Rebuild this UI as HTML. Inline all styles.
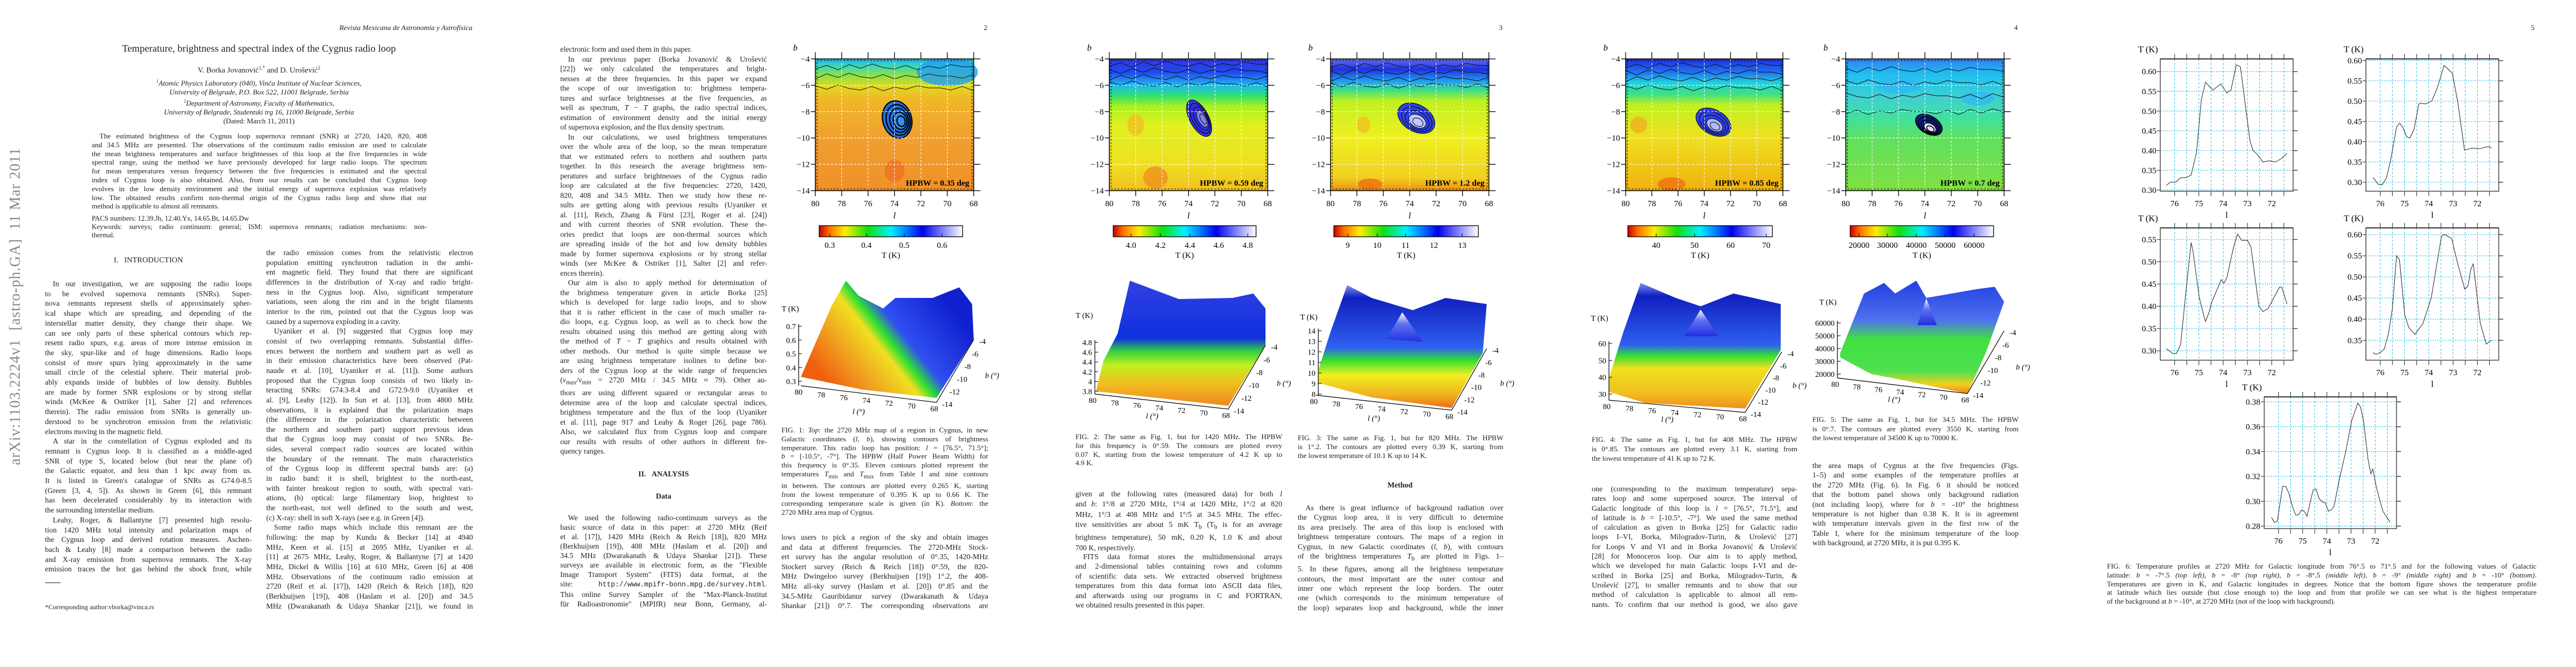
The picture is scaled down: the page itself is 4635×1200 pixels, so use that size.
<!DOCTYPE html>
<html><head><meta charset="utf-8"><title>Cygnus radio loop paper</title>
<style>
html,body{margin:0;padding:0;background:#fff;}
body{width:4635px;height:1200px;position:relative;overflow:hidden;font-family:"Liberation Serif",serif;color:#222;}
.t{position:absolute;font-size:13.5px;}
.t div{white-space:nowrap;overflow:hidden;text-align:justify;text-align-last:justify;}
.t div.e{text-align-last:left;}
.t div.i{text-indent:14px;}
.c{position:absolute;text-align:center;white-space:nowrap;}
.pn{position:absolute;font-size:13px;top:42px;}
#figs{position:absolute;left:0;top:0;}
</style></head>
<body>

<!-- PAGE 1 -->
<div style="position:absolute;left:27px;top:551px;transform:translate(-50%,-50%) rotate(-90deg);font-size:27px;color:#888;white-space:nowrap;letter-spacing:1px;">arXiv:1103.2224v1&nbsp;&nbsp;[astro-ph.GA]&nbsp;&nbsp;11 Mar 2011</div>
<div style="position:absolute;left:450px;width:400px;top:42px;text-align:right;font-style:italic;font-size:13px;">Revista Mexicana de Astronomía y Astrofísica</div>
<div class="c" style="left:166px;width:600px;top:77px;font-size:18px;">Temperature, brightness and spectral index of the Cygnus radio loop</div>
<div class="c" style="left:166px;width:600px;top:117px;font-size:14px;">V. Borka Jovanović<sup style="font-size:9px">1,*</sup> and D. Urošević<sup style="font-size:9px">2</sup></div>
<div class="c" style="left:166px;width:600px;top:139px;font-size:13px;line-height:16px;">
<div><i><sup style="font-size:8px">1</sup>Atomic Physics Laboratory (040), Vinča Institute of Nuclear Sciences,</i></div>
<div><i>University of Belgrade, P.O. Box 522, 11001 Belgrade, Serbia</i></div>
<div><i><sup style="font-size:8px">2</sup>Department of Astronomy, Faculty of Mathematics,</i></div>
<div><i>University of Belgrade, Studentski trg 16, 11000 Belgrade, Serbia</i></div>
<div>(Dated: March 11, 2011)</div>
</div>
<div class="t" style="left:165px;width:603px;top:237px;font-size:13px;line-height:15.8px;">
<div class="i">The estimated brightness of the Cygnus loop supernova remnant (SNR) at 2720, 1420, 820, 408</div>
<div>and 34.5 MHz are presented. The observations of the continuum radio emission are used to calculate</div>
<div>the mean brightness temperatures and surface brightnesses of this loop at the five frequencies in wide</div>
<div>spectral range, using the method we have previously developed for large radio loops. The spectrum</div>
<div>for mean temperatures versus frequency between the five frequencies is estimated and the spectral</div>
<div>index of Cygnus loop is also obtained. Also, from our results can be concluded that Cygnus loop</div>
<div>evolves in the low density environment and the initial energy of supernova explosion was relatively</div>
<div>low. The obtained results confirm non-thermal origin of the Cygnus radio loop and show that our</div>
<div class="e">method is applicable to almost all remnants.</div>
</div>
<div class="t" style="left:165px;width:603px;top:386px;font-size:12.5px;line-height:15px;">
<div class="e">PACS numbers: 12.39.Jh, 12.40.Yx, 14.65.Bt, 14.65.Dw</div>
<div>Keywords: surveys; radio continuum: general; ISM: supernova remnants; radiation mechanisms: non-</div>
<div class="e">thermal.</div>
</div>
<div class="c" style="left:81px;width:372px;top:461px;font-size:14px;">I.&nbsp;&nbsp;&nbsp;INTRODUCTION</div>
<div class="t" style="left:81px;width:372px;top:502px;line-height:17.7px;">
<div class="i">In our investigation, we are supposing the radio loops</div>
<div>to be evolved supernova remnants (SNRs). Super-</div>
<div>nova remnants represent shells of approximately spher-</div>
<div>ical shape which are spreading, and depending of the</div>
<div>interstellar matter density, they change their shape. We</div>
<div>can see only parts of these spherical contours which rep-</div>
<div>resent radio spurs, e.g. areas of more intense emission in</div>
<div>the sky, spur-like and of huge dimensions. Radio loops</div>
<div>consist of more spurs lying approximately in the same</div>
<div>small circle of the celestial sphere. Their material prob-</div>
<div>ably expands inside of bubbles of low density. Bubbles</div>
<div>are made by former SNR explosions or by strong stellar</div>
<div>winds (McKee &amp; Ostriker [1], Salter [2] and references</div>
<div>therein). The radio emission from SNRs is generally un-</div>
<div>derstood to be synchrotron emission from the relativistic</div>
<div class="e">electrons moving in the magnetic field.</div>
<div class="i">A star in the constellation of Cygnus exploded and its</div>
<div>remnant is Cygnus loop. It is classified as a middle-aged</div>
<div>SNR of type S, located below (but near the plane of)</div>
<div>the Galactic equator, and less than 1 kpc away from us.</div>
<div>It is listed in Green's catalogue of SNRs as G74.0-8.5</div>
<div>(Green [3, 4, 5]). As shown in Green [6], this remnant</div>
<div>has been decelerated considerably by its interaction with</div>
<div class="e">the surrounding interstellar medium.</div>
<div class="i">Leahy, Roger, &amp; Ballantyne [7] presented high resolu-</div>
<div>tion 1420 MHz total intensity and polarization maps of</div>
<div>the Cygnus loop and derived rotation measures. Aschen-</div>
<div>bach &amp; Leahy [8] made a comparison between the radio</div>
<div>and X-ray emission from supernova remnants. The X-ray</div>
<div>emission traces the hot gas behind the shock front, while</div>
</div>
<div style="position:absolute;left:81px;top:1048px;width:28px;height:1px;background:#222;"></div>
<div style="position:absolute;left:81px;top:1085px;font-size:12px;">*Corresponding author:vborka@vinca.rs</div>
<div class="t" style="left:479px;width:372px;top:446px;line-height:17.65px;">
<div>the radio emission comes from the relativistic electron</div>
<div>population emitting synchrotron radiation in the ambi-</div>
<div>ent magnetic field. They found that there are significant</div>
<div>differences in the distribution of X-ray and radio bright-</div>
<div>ness in the Cygnus loop. Also, significant temperature</div>
<div>variations, seen along the rim and in the bright filaments</div>
<div>interior to the rim, pointed out that the Cygnus loop was</div>
<div class="e">caused by a supernova exploding in a cavity.</div>
<div class="i">Uyaniker et al. [9] suggested that Cygnus loop may</div>
<div>consist of two overlapping remnants. Substantial differ-</div>
<div>ences between the northern and southern part as well as</div>
<div>in their emission characteristics have been observed (Pat-</div>
<div>naude et al. [10], Uyaniker et al. [11]). Some authors</div>
<div>proposed that the Cygnus loop consists of two likely in-</div>
<div>teracting SNRs: G74.3-8.4 and G72.9-9.0 (Uyaniker et</div>
<div>al. [9], Leahy [12]). In Sun et al. [13], from 4800 MHz</div>
<div>observations, it is explained that the polarization maps</div>
<div>(the difference in the polarization characteristic between</div>
<div>the northern and southern part) support previous ideas</div>
<div>that the Cygnus loop may consist of two SNRs. Be-</div>
<div>sides, several compact radio sources are located within</div>
<div>the boundary of the remnant. The main characteristics</div>
<div>of the Cygnus loop in different spectral bands are: (a)</div>
<div>in radio band: it is shell, brightest to the north-east,</div>
<div>with fainter breakout region to south, with spectral vari-</div>
<div>ations, (b) optical: large filamentary loop, brightest to</div>
<div>the north-east, not well defined to the south and west,</div>
<div class="e">(c) X-ray: shell in soft X-rays (see e.g. in Green [4]).</div>
<div class="i">Some radio maps which include this remnant are the</div>
<div>following: the map by Kundu &amp; Becker [14] at 4940</div>
<div>MHz, Keen et al. [15] at 2695 MHz, Uyaniker et al.</div>
<div>[11] at 2675 MHz, Leahy, Roger, &amp; Ballantyne [7] at 1420</div>
<div>MHz, Dickel &amp; Willis [16] at 610 MHz, Green [6] at 408</div>
<div>MHz. Observations of the continuum radio emission at</div>
<div>2720 (Reif et al. [17]), 1420 (Reich &amp; Reich [18]), 820</div>
<div>(Berkhuijsen [19]), 408 (Haslam et al. [20]) and 34.5</div>
<div>MHz (Dwarakanath &amp; Udaya Shankar [21]), we found in</div>
</div>

<!-- PAGE 2 -->
<div class="pn" style="left:1770px;">2</div>
<div class="t" style="left:1008px;width:372px;top:80px;line-height:17.5px;">
<div class="e">electronic form and used them in this paper.</div>
<div class="i">In our previous paper (Borka Jovanović &amp; Urošević</div>
<div>[22]) we only calculated the temperatures and bright-</div>
<div>nesses at the three frequencies. In this paper we expand</div>
<div>the scope of our investigation to: brightness tempera-</div>
<div>tures and surface brightnesses at the five frequencies, as</div>
<div>well as spectrum, <i>T</i> − <i>T</i> graphs, the radio spectral indices,</div>
<div>estimation of environment density and the initial energy</div>
<div class="e">of supernova explosion, and the flux density spectrum.</div>
<div class="i">In our calculations, we used brightness temperatures</div>
<div>over the whole area of the loop, so the mean temperature</div>
<div>that we estimated refers to northern and southern parts</div>
<div>together. In this research the average brightness tem-</div>
<div>peratures and surface brightnesses of the Cygnus radio</div>
<div>loop are calculated at the five frequencies: 2720, 1420,</div>
<div>820, 408 and 34.5 MHz. Then we study how these re-</div>
<div>sults are getting along with previous results (Uyaniker et</div>
<div>al. [11], Reich, Zhang &amp; Fürst [23], Roger et al. [24])</div>
<div>and with current theories of SNR evolution. These the-</div>
<div>ories predict that loops are non-thermal sources which</div>
<div>are spreading inside of the hot and low density bubbles</div>
<div>made by former supernova explosions or by strong stellar</div>
<div>winds (see McKee &amp; Ostriker [1], Salter [2] and refer-</div>
<div class="e">ences therein).</div>
<div class="i">Our aim is also to apply method for determination of</div>
<div>the brightness temperature given in article Borka [25]</div>
<div>which is developed for large radio loops, and to show</div>
<div>that it is rather efficient in the case of much smaller ra-</div>
<div>dio loops, e.g. Cygnus loop, as well as to check how the</div>
<div>results obtained using this method are getting along with</div>
<div>the method of <i>T</i> − <i>T</i> graphics and results obtained with</div>
<div>other methods. Our method is quite simple because we</div>
<div>are using brightness temperature isolines to define bor-</div>
<div>ders of the Cygnus loop at the wide range of frequencies</div>
<div>(<i>ν<sub>max</sub></i>/<i>ν<sub>min</sub></i> = 2720 MHz / 34.5 MHz ≈ 79). Other au-</div>
<div>thors are using different squared or rectangular areas to</div>
<div>determine area of the loop and calculate spectral indices,</div>
<div>brightness temperature and the flux of the loop (Uyaniker</div>
<div>et al. [11], page 917 and Leahy &amp; Roger [26], page 786).</div>
<div>Also, we calculated flux from Cygnus loop and compare</div>
<div>our results with results of other authors in different fre-</div>
<div class="e">quency ranges.</div>
</div>
<div class="c" style="left:1008px;width:372px;top:845px;font-size:13.5px;font-weight:bold;">II.&nbsp;&nbsp;&nbsp;ANALYSIS</div>
<div class="c" style="left:1008px;width:372px;top:885px;font-size:13.5px;font-weight:bold;">Data</div>
<div class="t" style="left:1008px;width:372px;top:923px;line-height:17px;">
<div class="i">We used the following radio-continuum surveys as the</div>
<div>basic source of data in this paper: at 2720 MHz (Reif</div>
<div>et al. [17]), 1420 MHz (Reich &amp; Reich [18]), 820 MHz</div>
<div>(Berkhuijsen [19]), 408 MHz (Haslam et al. [20]) and</div>
<div>34.5 MHz (Dwarakanath &amp; Udaya Shankar [21]). These</div>
<div>surveys are available in electronic form, as the "Flexible</div>
<div>Image Transport System" (FITS) data format, at the</div>
<div>site: <span style="font-family:'Liberation Mono',monospace;font-size:12.5px">http://www.mpifr-bonn.mpg.de/survey.html</span>.</div>
<div>This online Survey Sampler of the "Max-Planck-Institut</div>
<div>für Radioastronomie" (MPIfR) near Bonn, Germany, al-</div>
</div>
<div class="t" style="left:1406px;width:372px;top:766px;line-height:15.8px;font-size:13px;">
<div>FIG. 1: <i>Top</i>: the 2720 MHz map of a region in Cygnus, in new</div>
<div>Galactic coordinates (<i>l</i>, <i>b</i>), showing contours of brightness</div>
<div>temperature. This radio loop has position: <i>l</i> = [76.5°, 71.5°];</div>
<div><i>b</i> = [-10.5°, -7°]. The HPBW (Half Power Beam Width) for</div>
<div>this frequency is 0°.35. Eleven contours plotted represent the</div>
<div>temperatures <i>T</i><sub>min</sub> and <i>T</i><sub>max</sub> from Table I and nine contours</div>
<div>in between. The contours are plotted every 0.265 K, starting</div>
<div>from the lowest temperature of 0.395 K up to 0.66 K. The</div>
<div>corresponding temperature scale is given (in K). <i>Bottom</i>: the</div>
<div class="e">2720 MHz area map of Cygnus.</div>
</div>
<div class="t" style="left:1406px;width:372px;top:958px;line-height:17.6px;">
<div>lows users to pick a region of the sky and obtain images</div>
<div>and data at different frequencies. The 2720-MHz Stock-</div>
<div>ert survey has the angular resolution of 0°.35, 1420-MHz</div>
<div>Stockert survey (Reich &amp; Reich [18]) 0°.59, the 820-</div>
<div>MHz Dwingeloo survey (Berkhuijsen [19]) 1°.2, the 408-</div>
<div>MHz all-sky survey (Haslam et al. [20]) 0°.85 and the</div>
<div>34.5-MHz Gauribidanur survey (Dwarakanath &amp; Udaya</div>
<div>Shankar [21]) 0°.7. The corresponding observations are</div>
</div>

<!-- PAGE 3 -->
<div class="pn" style="left:2697px;">3</div>
<div class="t" style="left:1935px;width:372px;top:778px;line-height:15.8px;font-size:13px;">
<div>FIG. 2: The same as Fig. 1, but for 1420 MHz. The HPBW</div>
<div>for this frequency is 0°.59. The contours are plotted every</div>
<div>0.07 K, starting from the lowest temperature of 4.2 K up to</div>
<div class="e">4.9 K.</div>
</div>
<div class="t" style="left:1935px;width:372px;top:880px;line-height:18.4px;">
<div>given at the following rates (measured data) for both <i>l</i></div>
<div>and <i>b</i>: 1°/8 at 2720 MHz, 1°/4 at 1420 MHz, 1°/2 at 820</div>
<div>MHz, 1°/3 at 408 MHz and 1°/5 at 34.5 MHz. The effec-</div>
<div>tive sensitivities are about 5 mK T<sub>b</sub> (T<sub>b</sub> is for an average</div>
<div>brightness temperature), 50 mK, 0.20 K, 1.0 K and about</div>
<div class="e">700 K, respectively.</div>
</div>
<div class="t" style="left:1935px;width:372px;top:993px;line-height:17.4px;">
<div class="i">FITS data format stores the multidimensional arrays</div>
<div>and 2-dimensional tables containing rows and columns</div>
<div>of scientific data sets. We extracted observed brightness</div>
<div>temperatures from this data format into ASCII data files,</div>
<div>and afterwards using our programs in C and FORTRAN,</div>
<div class="e">we obtained results presented in this paper.</div>
</div>
<div class="t" style="left:2335px;width:370px;top:780px;line-height:16px;font-size:13px;">
<div>FIG. 3: The same as Fig. 1, but for 820 MHz. The HPBW</div>
<div>is 1°.2. The contours are plotted every 0.39 K, starting from</div>
<div class="e">the lowest temperature of 10.1 K up to 14 K.</div>
</div>
<div class="c" style="left:2333px;width:372px;top:865px;font-size:13.5px;font-weight:bold;">Method</div>
<div class="t" style="left:2335px;width:370px;top:905px;line-height:17.4px;">
<div class="i">As there is great influence of background radiation over</div>
<div>the Cygnus loop area, it is very difficult to determine</div>
<div>its area precisely. The area of this loop is enclosed with</div>
<div>brightness temperature contours. The maps of a region in</div>
<div>Cygnus, in new Galactic coordinates (<i>l</i>, <i>b</i>), with contours</div>
<div>of the brightness temperatures <i>T</i><sub>b</sub> are plotted in Figs. 1–</div>
<div>5. In these figures, among all the brightness temperature</div>
<div>contours, the most important are the outer contour and</div>
<div>inner one which represent the loop borders. The outer</div>
<div>one (which corresponds to the minimum temperature of</div>
<div>the loop) separates loop and background, while the inner</div>
</div>

<!-- PAGE 4 -->
<div class="pn" style="left:3624px;">4</div>
<div class="t" style="left:2864px;width:370px;top:782px;line-height:17px;font-size:13px;">
<div>FIG. 4: The same as Fig. 1, but for 408 MHz. The HPBW</div>
<div>is 0°.85. The contours are plotted every 3.1 K, starting from</div>
<div class="e">the lowest temperature of 41 K up to 72 K.</div>
</div>
<div class="t" style="left:2864px;width:370px;top:871px;line-height:17.3px;">
<div>one (corresponding to the maximum temperature) sepa-</div>
<div>rates loop and some superposed source. The interval of</div>
<div>Galactic longitude of this loop is <i>l</i> = [76.5°, 71.5°], and</div>
<div>of latitude is <i>b</i> = [-10.5°, -7°]. We used the same method</div>
<div>of calculation as given in Borka [25] for Galactic radio</div>
<div>loops I–VI, Borka, Milogradov-Turin, &amp; Urošević [27]</div>
<div>for Loops V and VI and in Borka Jovanović &amp; Urošević</div>
<div>[28] for Monoceros loop. Our aim is to apply method,</div>
<div>which we developed for main Galactic loops I-VI and de-</div>
<div>scribed in Borka [25] and Borka, Milogradov-Turin, &amp;</div>
<div>Urošević [27], to smaller remnants and to show that our</div>
<div>method of calculation is applicable to almost all rem-</div>
<div>nants. To confirm that our method is good, we also gave</div>
</div>
<div class="t" style="left:3261px;width:371px;top:747px;line-height:16.5px;font-size:13px;">
<div>FIG. 5: The same as Fig. 1, but for 34.5 MHz. The HPBW</div>
<div>is 0°.7. The contours are plotted every 3550 K, starting from</div>
<div class="e">the lowest temperature of 34500 K up to 70000 K.</div>
</div>
<div class="t" style="left:3261px;width:371px;top:829px;line-height:17.4px;">
<div>the area maps of Cygnus at the five frequencies (Figs.</div>
<div>1–5) and some examples of the temperature profiles at</div>
<div>the 2720 MHz (Fig. 6). In Fig. 6 it should be noticed</div>
<div>that the bottom panel shows only background radiation</div>
<div>(not including loop), where for <i>b</i> = -10° the brightness</div>
<div>temperature is not higher than 0.38 K. It is in agreement</div>
<div>with temperature intervals given in the first row of the</div>
<div>Table I, where for the minimum temperature of the loop</div>
<div class="e">with background, at 2720 MHz, it is put 0.395 K.</div>
</div>

<!-- PAGE 5 -->
<div class="pn" style="left:4554px;">5</div>
<div class="t" style="left:3791px;width:773px;top:1011px;line-height:15.8px;font-size:13px;">
<div>FIG. 6: Temperature profiles at 2720 MHz for Galactic longitude from 76°.5 to 71°.5 and for the following values of Galactic</div>
<div>latitude: <i>b</i> = -7°.5 <i>(top left)</i>, <i>b</i> = -8° <i>(top right)</i>, <i>b</i> = -8°.5 <i>(middle left)</i>, <i>b</i> = -9° <i>(middle right)</i> and <i>b</i> = -10° <i>(bottom)</i>.</div>
<div>Temperatures are given in K, and Galactic longitudes in degrees. Notice that the bottom figure shows the temperature profile</div>
<div>at latitude which lies outside (but close enough to) the loop and from that profile we can see what is the highest temperature</div>
<div class="e">of the background at <i>b</i> = -10°, at 2720 MHz (not of the loop with background).</div>
</div>

<svg id="figs" width="4635" height="1200" xmlns="http://www.w3.org/2000/svg" font-family="Liberation Serif, serif">
<defs id="defs"></defs>
</svg>

<script>
// ===== Fig. 6 profile data (Galactic longitude in deg, temperature in K) =====
const lonB75=[76.34,76.17,75.95,75.75,75.54,75.32,75.10,74.90,74.73,74.42,74.10,73.85,73.68,73.46,73.29,72.90,72.78,72.61,72.36,72.10,71.85,71.59,71.37];
const tempB75=[0.312,0.320,0.320,0.331,0.331,0.338,0.394,0.528,0.573,0.553,0.569,0.546,0.553,0.617,0.612,0.426,0.401,0.391,0.371,0.374,0.371,0.380,0.393];
const lonB80=[76.30,76.08,75.92,75.75,75.58,75.33,75.20,75.08,74.91,74.78,74.61,74.41,74.33,74.13,73.87,73.65,73.37,73.03,72.81,72.53,72.23,71.89,71.55,71.42];
const tempB80=[0.312,0.295,0.294,0.310,0.352,0.436,0.446,0.436,0.412,0.409,0.430,0.493,0.495,0.493,0.501,0.533,0.588,0.569,0.498,0.379,0.384,0.383,0.388,0.384];
const lonB85=[76.34,76.08,75.92,75.75,75.54,75.32,75.24,74.98,74.81,74.73,74.59,74.47,74.08,73.97,73.85,73.58,73.41,73.24,73.00,72.86,72.53,72.36,72.15,71.68,71.59,71.37];
const tempB85=[0.305,0.294,0.294,0.315,0.430,0.543,0.522,0.419,0.381,0.366,0.385,0.409,0.460,0.452,0.464,0.531,0.562,0.548,0.548,0.534,0.400,0.388,0.395,0.443,0.443,0.405];
const lonB90=[76.30,76.17,76.00,75.83,75.66,75.50,75.33,75.21,74.99,74.82,74.57,74.24,73.90,73.48,73.36,73.06,72.81,72.52,72.39,72.27,72.17,71.88,71.63,71.41];
const tempB90=[0.321,0.317,0.321,0.330,0.366,0.425,0.550,0.541,0.410,0.380,0.364,0.390,0.450,0.596,0.601,0.591,0.531,0.471,0.478,0.518,0.531,0.390,0.341,0.351];
const lonB100=[76.29,76.17,76.05,75.83,75.70,75.58,75.41,75.29,75.18,75.04,74.94,74.82,74.57,74.45,74.32,74.15,74.07,73.93,73.82,73.70,73.48,73.23,72.97,72.72,72.61,72.47,72.30,72.18,72.10,71.97,71.80,71.68,71.55,71.38];
const tempB100=[0.287,0.283,0.284,0.312,0.312,0.307,0.295,0.289,0.289,0.293,0.292,0.288,0.309,0.310,0.302,0.299,0.299,0.292,0.293,0.296,0.318,0.339,0.365,0.379,0.376,0.363,0.334,0.322,0.326,0.313,0.300,0.292,0.288,0.283];
const lonTickLabels=[76,75,74,73,72];
const lonMinorTicks=[76,75.5,75,74.5,74,73.5,73,72.5,72,71.5];
const yTicksB75=[0.30,0.35,0.40,0.45,0.50,0.55,0.60];
const yTicksB80=[0.30,0.35,0.40,0.45,0.50,0.55,0.60];
const yTicksB85=[0.30,0.35,0.40,0.45,0.50,0.55];
const yTicksB90=[0.35,0.40,0.45,0.50,0.55,0.60];
const yTicksB100=[0.28,0.30,0.32,0.34,0.36,0.38];

const NS='http://www.w3.org/2000/svg';
const svg=document.getElementById('figs');
const defs=document.getElementById('defs');
function mk(tag,attrs,parent){const e=document.createElementNS(NS,tag);for(const k in attrs)e.setAttribute(k,attrs[k]);(parent||svg).appendChild(e);return e;}
function txt(x,y,s,attrs,parent){const t=mk('text',Object.assign({x:x,y:y},attrs||{}),parent);t.textContent=s;return t;}
function grad(id,stops,vec){
  const lg=mk('linearGradient',Object.assign({id:id},vec),defs);
  stops.forEach(s=>{const st=mk('stop',{offset:s[0],'stop-color':s[1]},lg);
    
    });
  
  
}
const CBAR=[[0,'#c80000'],[0.07,'#ff7000'],[0.18,'#ffee00'],[0.34,'#10e010'],[0.5,'#00f0ff'],[0.62,'#0070ff'],[0.72,'#0000f0'],[0.86,'#8080ff'],[1,'#ffffff']];
grad('cbar-grad',CBAR,{x1:0,y1:0,x2:1,y2:0});

// ===== contour maps =====
function drawMap(c){
  const g=mk('g',{});
  
  
  grad(c.name+'-grad',c.stops,{x1:0,y1:0,x2:0,y2:1});
  const X=l=>c.x+(80-l)/12*c.w, Y=b=>c.y+(-4-b)/10*c.h;
  const bg=mk('rect',{x:c.x,y:c.y,width:c.w,height:c.h,fill:'url(#'+c.name+'-grad)'},g);
  
  
  (c.patches||[]).forEach(p=>{const r=mk('ellipse',{cx:X(p[0]),cy:Y(p[1]),rx:p[2],ry:p[3],fill:p[4],opacity:0.8},g);
    
    });
  const wob=[0,3,-2,4,-3,2,-4,1,3,-2,4,-1,2,-3,0];
  (c.waves||[]).forEach(wy=>{let d='';for(let i=0;i<wob.length;i++){const px=c.x+i*c.w/(wob.length-1);const py=c.y+wy*c.h+wob[(i+Math.round(wy*20))%wob.length]*1.3;d+=(i?'L':'M')+px.toFixed(1)+' '+py.toFixed(1);}
    const p=mk('path',{d:d,fill:'none',stroke:'#111','stroke-width':1},g);
    
    });
  (c.rings||[]).forEach(r=>{
    const cx=X(r[0]),cy=Y(r[1]);
    const bl=mk('ellipse',{cx:cx,cy:cy,rx:r[2],ry:r[3],fill:r[5],transform:'rotate('+r[4]+' '+cx+' '+cy+')'},g);
    
    
    [1,0.82,0.64,0.46,0.28].forEach((f,i)=>{const e=mk('ellipse',{cx:cx+i*1.5,cy:cy+i*1.2,rx:r[2]*f,ry:r[3]*f,fill:i>2?r[6]:'none',stroke:'#000','stroke-width':r[7]||1,transform:'rotate('+r[4]+' '+cx+' '+cy+')'},g);
      
      });
  });
  const lv=[80,78,76,74,72,70,68], bv=[-4,-6,-8,-10,-12,-14];
  lv.forEach(l=>{
    if(l<80&&l>68){const gl=mk('line',{x1:X(l),y1:c.y,x2:X(l),y2:c.y+c.h,stroke:'#fff','stroke-width':1,'stroke-dasharray':'4 3'},g);
      
      }
    const t1=mk('line',{x1:X(l),y1:c.y-12,x2:X(l),y2:c.y,stroke:'#000','stroke-width':1.3},g);
    
    
    const t2=mk('line',{x1:X(l),y1:c.y+c.h,x2:X(l),y2:c.y+c.h+10,stroke:'#000','stroke-width':1.3},g);
    
    
    const lt=txt(X(l),c.y+c.h+28,String(l),{'text-anchor':'middle','font-size':15},g);
    
    
  });
  bv.forEach(b=>{
    if(b<-4&&b>-14){const gl=mk('line',{x1:c.x,y1:Y(b),x2:c.x+c.w,y2:Y(b),stroke:'#fff','stroke-width':1,'stroke-dasharray':'4 3'},g);
      
      }
    const t1=mk('line',{x1:c.x+c.w,y1:Y(b),x2:c.x+c.w+12,y2:Y(b),stroke:'#000','stroke-width':1.3},g);
    
    
    const t2=mk('line',{x1:c.x-8,y1:Y(b),x2:c.x,y2:Y(b),stroke:'#000','stroke-width':1.3},g);
    
    
    const bt=txt(c.x-10,Y(b)+5,'−'+Math.abs(b),{'text-anchor':'end','font-size':15},g);
    
    
  });
  const inner=mk('rect',{x:c.x+3,y:c.y+3,width:c.w-6,height:c.h-6,fill:'none',stroke:'#000','stroke-width':1,'stroke-dasharray':'3 3'},g);
  
  
  const fr=mk('rect',{x:c.x,y:c.y,width:c.w,height:c.h,fill:'none',stroke:'#000','stroke-width':1.5},g);
  
  
  const bl=txt(c.x-40,c.y-15,'b',{'font-style':'italic','font-size':16},g);
  
  
  const ll=txt(c.x+c.w/2,c.y+c.h+50,'l',{'font-style':'italic','font-size':16,'text-anchor':'middle'},g);
  
  
  const hp=txt(c.x+c.w-8,c.y+c.h-9,c.hpbw,{'text-anchor':'end','font-size':15,'font-weight':'bold'},g);
  
  
  const cb=mk('rect',{x:c.cb[0],y:406,width:c.cb[1]-c.cb[0],height:20,fill:'url(#cbar-grad)',stroke:'#000','stroke-width':1.3},g);
  
  
  c.cbt.forEach((v,i)=>{const x=c.cbx[i];
    const tk=mk('line',{x1:x,y1:420,x2:x,y2:426,stroke:'#000'},g);
    
    
    const tl=txt(x,446,v,{'text-anchor':'middle','font-size':15},g);
    
    });
  const ct=txt((c.cb[0]+c.cb[1])/2,464,'T (K)',{'text-anchor':'middle','font-size':15},g);
  
  
}

drawMap({name:'fig1-map',x:1467,y:106,w:285,h:237,hpbw:'HPBW = 0.35 deg',
  stops:[[0,'#20b8f0'],[0.06,'#40d8b0'],[0.13,'#90e040'],[0.21,'#e0d820'],[0.3,'#f0b828'],[0.6,'#f0a030'],[1,'#f09028']],
  patches:[[70,-5,55,25,'#20a0f0'],[74,-12.5,18,20,'#f07020']],
  waves:[0.06,0.13,0.22],
  rings:[[73.8,-8.6,26,34,-15,'#2070e0','#3090f0',2.2]],
  cb:[1474,1732],cbt:['0.3','0.4','0.5','0.6'],cbx:[1493,1559,1627,1695]});
drawMap({name:'fig2-map',x:1996,y:106,w:285,h:237,hpbw:'HPBW = 0.59 deg',
  stops:[[0,'#3038e0'],[0.1,'#2048f0'],[0.2,'#20b8f0'],[0.28,'#30e070'],[0.36,'#a8f020'],[0.5,'#e0f020'],[0.8,'#f0e020'],[1,'#f0c020']],
  patches:[[76.5,-13,22,20,'#f09020'],[78,-9,15,20,'#f0c020']],
  waves:[0.04,0.09,0.14,0.19],
  rings:[[73.2,-8.5,17,36,-28,'#3030e0','#8080f0',1]],
  cb:[2003,2260],cbt:['4.0','4.2','4.4','4.6','4.8'],cbx:[2035,2088,2141,2193,2245]});
drawMap({name:'fig3-map',x:2394,y:106,w:285,h:237,hpbw:'HPBW = 1.2 deg',
  stops:[[0,'#6070f0'],[0.08,'#2030e0'],[0.17,'#20a0f0'],[0.24,'#40e080'],[0.32,'#c0f020'],[0.6,'#f0f020'],[0.9,'#f0d020'],[1,'#f09010']],
  patches:[[77,-13.5,22,10,'#f07010'],[77.5,-9,12,15,'#f0c020']],
  waves:[0.05,0.1,0.15,0.2],
  rings:[[73.5,-8.5,36,24,30,'#3040e0','#c0c8ff',1]],
  cb:[2400,2660],cbt:['9','10','11','12','13'],cbx:[2425,2478,2529,2580,2631]});
drawMap({name:'fig4-map',x:2925,y:106,w:283,h:237,hpbw:'HPBW = 0.85 deg',
  stops:[[0,'#2030e0'],[0.1,'#2070f0'],[0.18,'#20d0e0'],[0.27,'#40e080'],[0.35,'#c0f020'],[0.6,'#f0e020'],[1,'#f0b010']],
  patches:[[76.5,-13.5,25,12,'#f07010'],[79,-9,15,15,'#f0b020']],
  waves:[0.05,0.1,0.15,0.22],
  rings:[[73.3,-8.8,34,22,30,'#3040e0','#b0b8ff',1]],
  cb:[2929,3189],cbt:['40','50','60','70'],cbx:[2980,3049,3114,3178]});
drawMap({name:'fig5-map',x:3321,y:106,w:285,h:237,hpbw:'HPBW = 0.7 deg',
  stops:[[0,'#3080f0'],[0.12,'#20c0f0'],[0.3,'#40d0d0'],[0.45,'#40e0a0'],[0.6,'#60e060'],[1,'#80e040']],
  patches:[[70,-7,30,12,'#30b8f0'],[76,-6,40,14,'#30b8f0']],
  waves:[0.08,0.18,0.28,0.4],
  rings:[[73.7,-9,26,16,30,'#102080','#e0e0ff',1.6]],
  cb:[3329,3587],cbt:['20000','30000','40000','50000','60000'],cbx:[3345,3396,3448,3500,3552]});

// ===== 3D surfaces =====
function draw3D(c){
  const g=mk('g',{});
  
  
  grad(c.name+'-grad',c.stops,Object.assign({gradientUnits:'userSpaceOnUse'},c.gv));
  const s=mk('polygon',{points:c.poly.map(p=>p.join(',')).join(' '),fill:'url(#'+c.name+'-grad)'},g);
  
  
  if(c.peak){grad(c.name+'-peak',[[0,'#ffffff'],[0.4,'#6070f0'],[1,'#2030e0']],{x1:0,y1:0,x2:0,y2:1});
    const pk=mk('polygon',{points:c.peak.map(p=>p.join(',')).join(' '),fill:'url(#'+c.name+'-peak)'},g);
    
    }
  const A=c.A,B=c.B,C=c.C;
  const ax=mk('polyline',{points:[A,B,C].map(p=>p.join(',')).join(' '),fill:'none',stroke:'#000','stroke-width':1.2},g);
  
  
  const zY=v=>c.zy[0]+(v-c.zv[0])/(c.zv[1]-c.zv[0])*(c.zy[1]-c.zy[0]);
  const za=mk('line',{x1:c.zx,y1:zY(c.zt[c.zt.length-1])-4,x2:c.zx,y2:A[1],stroke:'#000','stroke-width':1.2},g);
  
  
  c.zt.forEach(v=>{const y=zY(v);
    const tk=mk('line',{x1:c.zx,y1:y,x2:c.zx+6,y2:y,stroke:'#000'},g);
    
    
    const tl=txt(c.zx-5,y+5,c.zf(v),{'text-anchor':'end','font-size':14},g);
    
    });
  [80,78,76,74,72,70,68].forEach((l,i)=>{const f=i/6;
    const tl=txt(A[0]+(B[0]-A[0])*f-4,A[1]+(B[1]-A[1])*f+16,String(l),{'text-anchor':'middle','font-size':14},g);
    
    });
  [-4,-6,-8,-10,-12,-14].forEach((b,i)=>{const f=i/5;
    const tl=txt(C[0]+(B[0]-C[0])*f+10,C[1]+(B[1]-C[1])*f+8,String(b),{'text-anchor':'start','font-size':14},g);
    
    });
  const zt=txt(c.zl[0],c.zl[1],'T (K)',{'text-anchor':'middle','font-size':14},g);
  
  
  const lt=txt(c.ll[0],c.ll[1],'l (°)',{'text-anchor':'middle','font-size':14,'font-style':'italic'},g);
  
  
  const bt=txt(c.bl[0],c.bl[1],'b (°)',{'text-anchor':'middle','font-size':14,'font-style':'italic'},g);
  
  
}
const f1=v=>v.toFixed(1), f0=v=>String(v);
draw3D({name:'fig1-surface',A:[1441,694],B:[1685,724],C:[1752,611],zx:1437,zv:[0.3,0.7],zy:[686,587],zt:[0.3,0.4,0.5,0.6,0.7],zf:f1,
  zl:[1422,560],ll:[1545,745],bl:[1785,680],
  poly:[[1496,551],[1522,505],[1545,532],[1589,555],[1611,536],[1678,536],[1726,517],[1749,547],[1752,611],[1685,716],[1552,701],[1441,678]],
  gv:{x1:1700,y1:540,x2:1500,y2:700},
  stops:[[0,'#1020d0'],[0.38,'#3050f0'],[0.48,'#30e030'],[0.56,'#f0e020'],[0.78,'#f0a020'],[1,'#f06010']]});
draw3D({name:'fig2-surface',A:[1970,709],B:[2210,736],C:[2277,621],zx:1970,zv:[3.8,4.8],zy:[704,616],zt:[3.8,4,4.2,4.4,4.6,4.8],zf:v=>(Math.abs(v-4)<1e-9?'4':v.toFixed(1)),
  zl:[1951,572],ll:[2073,753],bl:[2310,694],
  poly:[[2033,505],[2121,538],[2218,536],[2255,528],[2277,555],[2277,621],[2210,730],[1972,704],[1985,650],[2011,600]],
  gv:{x1:0,y1:505,x2:0,y2:735},
  stops:[[0,'#3040e0'],[0.45,'#1030e0'],[0.55,'#30d040'],[0.66,'#c0f020'],[0.8,'#f0c020'],[1,'#f08020']]});
draw3D({name:'fig3-surface',A:[2368,711],B:[2612,738],C:[2675,627],zx:2372,zv:[8,14],zy:[709,595],zt:[8,9,10,11,12,13,14],zf:f0,
  zl:[2355,575],ll:[2472,757],bl:[2712,694],
  poly:[[2424,513],[2468,536],[2542,558],[2601,536],[2675,547],[2668,635],[2612,734],[2468,715],[2372,689],[2372,666],[2394,597]],
  peak:[[2495,610],[2523,562],[2560,615]],
  gv:{x1:0,y1:513,x2:0,y2:738},
  stops:[[0,'#8090f0'],[0.1,'#1020c0'],[0.5,'#3060f0'],[0.6,'#30e030'],[0.72,'#f0f020'],[0.88,'#f0b020'],[1,'#f06010']]});
draw3D({name:'fig4-surface',A:[2895,720],B:[3140,742],C:[3206,633],zx:2895,zv:[30,60],zy:[709,618],zt:[30,40,50,60],zf:f0,
  zl:[2878,577],ll:[3000,759],bl:[3238,698],
  poly:[[2952,509],[3015,536],[3060,551],[3119,528],[3204,547],[3204,630],[3140,735],[2960,725],[2895,705],[2895,680],[2920,600]],
  peak:[[3030,605],[3060,557],[3092,605]],
  gv:{x1:0,y1:509,x2:0,y2:742},
  stops:[[0,'#8090f0'],[0.1,'#1020c0'],[0.48,'#3060f0'],[0.56,'#30e030'],[0.66,'#f0e020'],[0.85,'#f0c020'],[1,'#f08020']]});
draw3D({name:'fig5-surface',A:[3306,680],B:[3540,708],C:[3606,595],zx:3306,zv:[20000,60000],zy:[673,581],zt:[20000,30000,40000,50000,60000],zf:f0,
  zl:[3289,548],ll:[3408,723],bl:[3640,665],
  poly:[[3311,635],[3354,528],[3390,509],[3410,528],[3448,505],[3466,536],[3512,528],[3558,520],[3589,516],[3606,543],[3573,635],[3540,708],[3410,681],[3367,673],[3311,643]],
  peak:[[3450,585],[3466,537],[3485,585]],
  gv:{x1:0,y1:505,x2:0,y2:708},
  stops:[[0,'#2040e0'],[0.35,'#5070f0'],[0.52,'#40e040'],[0.8,'#50e050'],[0.92,'#f0d020'],[1,'#f08020']]});

// ===== Fig. 6 temperature profiles =====
const LON_LEFT=76.59, LON_RIGHT=71.12;
function drawProfile(p,lon,temp,ticks){
  const g=mk('g',{});
  
  
  const X=l=>p.x+(LON_LEFT-l)/(LON_LEFT-LON_RIGHT)*p.w;
  const Y=v=>p.y+p.h-(v-p.ymin)/(p.ymax-p.ymin)*p.h;
  lonMinorTicks.forEach(l=>{const x=X(l);
    const gl=mk('line',{x1:x,y1:p.y,x2:x,y2:p.y+p.h,stroke:'#30c0e8','stroke-width':1,'stroke-dasharray':'4 3'},g);
    
    
    const t1=mk('line',{x1:x,y1:p.y-9,x2:x,y2:p.y,stroke:'#444','stroke-width':1.2},g);
    
    
    const t2=mk('line',{x1:x,y1:p.y+p.h,x2:x,y2:p.y+p.h+9,stroke:'#444','stroke-width':1.2},g);
    
    });
  lonTickLabels.forEach(l=>{
    const tl=txt(X(l),p.y+p.h+27,String(l),{'text-anchor':'middle','font-size':15},g);
    
    });
  ticks.forEach(v=>{const y=Y(v);
    const gl=mk('line',{x1:p.x,y1:y,x2:p.x+p.w,y2:y,stroke:'#30c0e8','stroke-width':1.2,'stroke-dasharray':'2 2'},g);
    
    
    const t1=mk('line',{x1:p.x-6,y1:y,x2:p.x,y2:y,stroke:'#444','stroke-width':1.2},g);
    
    
    const t2=mk('line',{x1:p.x+p.w,y1:y,x2:p.x+p.w+8,y2:y,stroke:'#444','stroke-width':1.5},g);
    
    
    const tl=txt(p.x-7,y+5,v.toFixed(2),{'text-anchor':'end','font-size':15},g);
    
    });
  const fr=mk('rect',{x:p.x,y:p.y,width:p.w,height:p.h,fill:'none',stroke:'#555','stroke-width':1.6},g);
  
  
  const top=mk('line',{x1:p.x,y1:p.y,x2:p.x+p.w,y2:p.y,stroke:'#444','stroke-width':2.2},g);
  
  
  const pts=lon.map((l,i)=>X(l).toFixed(1)+','+Y(temp[i]).toFixed(1)).join(' ');
  const ln=mk('polyline',{points:pts,fill:'none',stroke:'#222','stroke-width':1},g);
  
  
  const yt=txt(p.x-22,p.y-12,'T (K)',{'text-anchor':'middle','font-size':16},g);
  
  
  const xt=txt(p.x+p.w/2,p.y+p.h+48,'l',{'text-anchor':'middle','font-size':16},g);
  
  
}
drawProfile({name:'profile-b-7.5',x:3887,y:106,w:239,h:238,ymin:0.297,ymax:0.632},lonB75,tempB75,yTicksB75);
drawProfile({name:'profile-b-8',x:4257,y:106,w:239,h:238,ymin:0.278,ymax:0.604},lonB80,tempB80,yTicksB80);
drawProfile({name:'profile-b-8.5',x:3887,y:410,w:239,h:238,ymin:0.279,ymax:0.576},lonB85,tempB85,yTicksB85);
drawProfile({name:'profile-b-9',x:4257,y:410,w:239,h:238,ymin:0.303,ymax:0.616},lonB90,tempB90,yTicksB90);
drawProfile({name:'profile-b-10',x:4074,y:714,w:238,h:237,ymin:0.278,ymax:0.384},lonB100,tempB100,yTicksB100);
</script>
</body></html>
